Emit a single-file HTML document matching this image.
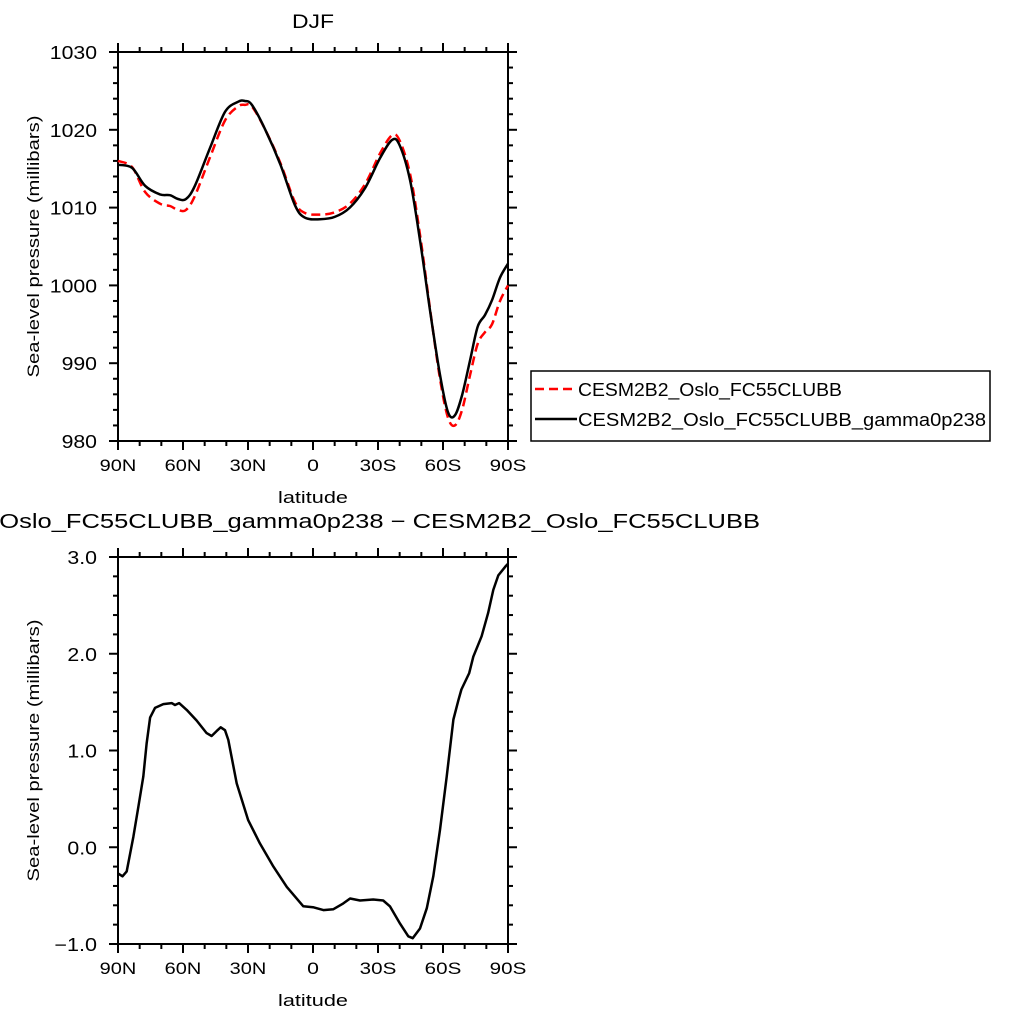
<!DOCTYPE html>
<html><head><meta charset="utf-8"><style>
html,body{margin:0;padding:0;background:#fff;}
svg{display:block;font-family:"Liberation Sans","DejaVu Sans",sans-serif;}
</style></head><body>
<svg id="chart" width="1015" height="1017" viewBox="0 0 1015 1017" xmlns="http://www.w3.org/2000/svg"></svg>
<script>
// ---- data ----
const topLat = [90,83.5,77.5,70.6,66,62.3,58.6,54.5,47.5,40.6,34.6,31.4,28.2,22,15,8.3,3.7,-3.2,-10,-17,-24,-31,-36.5,-40,-44.8,-49.4,-54,-58.6,-62.3,-65.5,-68.8,-72.5,-76,-79.4,-82.6,-86.3,-90];
const gammaValues = [1015.5,1015.1,1012.8,1011.7,1011.6,1011.1,1011.1,1012.8,1017.7,1022.3,1023.6,1023.7,1023.2,1020,1015.5,1010.3,1008.7,1008.5,1008.8,1010,1012.5,1016.4,1018.7,1018,1013.5,1005.8,996.8,988.5,983.7,983.3,985.9,990.4,994.7,996.2,998.1,1001,1002.8];
const baseValues = [1016,1015.2,1012,1010.5,1010.2,1009.7,1009.7,1011.5,1016.5,1021.2,1023,1023.2,1023,1020,1015.7,1010.7,1009.3,1009.1,1009.4,1010.5,1013,1017,1019.3,1018.6,1014.3,1006.5,997,988,983,982,984,988.5,992.5,994,995,998,1000];
const diffLat = [90,87.9,86,82.9,80.6,78.3,76.8,75.2,72.9,69.1,65.2,63.7,61.8,58.3,53.7,49.1,46.8,44.5,42.6,40.6,39.1,35.2,29.9,24.5,18.3,12.1,8.3,4.5,0,-4.8,-9.4,-14,-17.1,-21.7,-27.8,-32.4,-35.5,-40.2,-44,-46,-49.4,-52.5,-55.5,-58.6,-61.7,-64.8,-67.1,-68.5,-72.1,-74,-77.8,-80.8,-83.2,-85.5,-89.1,-90];
const diffValues = [-0.27,-0.30,-0.25,0.11,0.42,0.73,1.07,1.34,1.44,1.48,1.49,1.47,1.49,1.42,1.31,1.18,1.15,1.2,1.24,1.21,1.11,0.66,0.28,0.04,-0.2,-0.41,-0.51,-0.61,-0.62,-0.65,-0.64,-0.58,-0.53,-0.55,-0.54,-0.55,-0.61,-0.79,-0.92,-0.94,-0.84,-0.63,-0.30,0.18,0.73,1.32,1.52,1.63,1.80,1.97,2.18,2.42,2.66,2.81,2.91,2.93];
const xTickLat = [90,60,30,0,-30,-60,-90];
const xTickLabels = ["90N","60N","30N","0","30S","60S","90S"];
const topYTicks = [980,990,1000,1010,1020,1030];
const botYTicks = [-1,0,1,2,3];
const botYLabels = ["\u22121.0","0.0","1.0","2.0","3.0"];

const NS="http://www.w3.org/2000/svg";
const svg=document.getElementById('chart');
function mk(tag,attrs,parent){const e=document.createElementNS(NS,tag);for(const k in attrs)e.setAttribute(k,attrs[k]);(parent||svg).appendChild(e);return e;}
function tw(s){let w=0;for(const c of s){w+= c==='.'?6:(c==='\u2212'?13:11.8);}return w;}
const X0=118,X1=508;
function xs(lat){return X0+(90-lat)*(X1-X0)/180;}

function panel(name,Y0,Y1,ymin,ymax,yTicks,yLabels,minorStep){
  const g=mk('g',{});
  
  
  const ys=v=>Y1-(v-ymin)*(Y1-Y0)/(ymax-ymin);
  const frame=mk('rect',{x:X0,y:Y0,width:X1-X0,height:Y1-Y0,fill:'none',stroke:'#000','stroke-width':2},g);
  
  
  for(let lat=90;lat>=-90;lat-=10){
    const x=xs(lat);const maj=lat%30===0;const L=maj?9:5;
    mk('line',{x1:x,x2:x,y1:Y1,y2:Y1+L,stroke:'#000','stroke-width':2},g);
    mk('line',{x1:x,x2:x,y1:Y0,y2:Y0-L,stroke:'#000','stroke-width':2},g);
  }
  xTickLabels.forEach((t,i)=>{
    const tx=mk('text',{x:xs(xTickLat[i]),y:Y1+30,'font-size':17,'text-anchor':'middle',textLength:tw(t.replace(/[NS]/,'00')) - (t==='0'?0:11.8*2-13),lengthAdjust:'spacingAndGlyphs'},g);
    tx.textContent=t;
    
    
  });
  const n=Math.round((ymax-ymin)/minorStep);
  const per=Math.round((yTicks[1]-yTicks[0])/minorStep);
  for(let i=0;i<=n;i++){
    const v=ymin+i*minorStep;const y=ys(v);
    const maj=i%per===0;const L=maj?9:5;
    mk('line',{x1:X0,x2:X0-L,y1:y,y2:y,stroke:'#000','stroke-width':2},g);
    mk('line',{x1:X1,x2:X1+L,y1:y,y2:y,stroke:'#000','stroke-width':2},g);
  }
  yTicks.forEach((v,i)=>{
    const w=tw(yLabels[i]);
    const ty=mk('text',{x:97-w,y:ys(v)+7,'font-size':18,textLength:w,lengthAdjust:'spacingAndGlyphs'},g);
    ty.textContent=yLabels[i];
    
    
  });
  const xt=mk('text',{x:278,y:Y1+62,'font-size':17,textLength:70,lengthAdjust:'spacingAndGlyphs'},g);
  xt.textContent='latitude';
  
  
  const cy=(Y0+Y1)/2;
  const yt=mk('text',{x:cy-131,y:0,'font-size':17,textLength:262,lengthAdjust:'spacingAndGlyphs',transform:`translate(39 ${2*cy}) rotate(-90)`},g);
  yt.textContent='Sea-level pressure (millibars)';
  
  
  return ys;
}
function smoothPath(pts){
  let d='M'+pts[0][0].toFixed(1)+','+pts[0][1].toFixed(1);
  for(let i=0;i<pts.length-1;i++){
    const p0=pts[Math.max(0,i-1)],p1=pts[i],p2=pts[i+1],p3=pts[Math.min(pts.length-1,i+2)];
    const c1=[p1[0]+(p2[0]-p0[0])/6,p1[1]+(p2[1]-p0[1])/6];
    const c2=[p2[0]-(p3[0]-p1[0])/6,p2[1]-(p3[1]-p1[1])/6];
    d+=` C${c1[0].toFixed(1)},${c1[1].toFixed(1)} ${c2[0].toFixed(1)},${c2[1].toFixed(1)} ${p2[0].toFixed(1)},${p2[1].toFixed(1)}`;
  }
  return d;
}
function line(lats,vals,ys,attrs,name,smooth){
  const pts=lats.map((l,i)=>[xs(l),ys(vals[i])]);
  const d=smooth?smoothPath(pts):pts.map((p,i)=>(i?'L':'M')+p[0].toFixed(1)+','+p[1].toFixed(1)).join(' ');
  const p=mk('path',Object.assign({d:d,fill:'none','stroke-linejoin':'round'},attrs));
  
  
}

const ysT=panel('top-panel',52,441,980,1030,topYTicks,topYTicks.map(String),2);
line(topLat,baseValues,ysT,{stroke:'#f00','stroke-width':2.5,'stroke-dasharray':'9,5'},'series-base-red-dashed',true);
line(topLat,gammaValues,ysT,{stroke:'#000','stroke-width':2.5},'series-gamma-black',true);
const t1=mk('text',{x:292,y:28,'font-size':19,textLength:42,lengthAdjust:'spacingAndGlyphs'});
t1.textContent='DJF';



const lg=mk('g',{});


mk('rect',{x:531,y:371,width:459,height:70,fill:'#fff',stroke:'#000','stroke-width':1.5},lg);
mk('line',{x1:535,x2:577,y1:389,y2:389,stroke:'#f00','stroke-width':2.5,'stroke-dasharray':'9,5'},lg);
mk('line',{x1:535,x2:577,y1:419,y2:419,stroke:'#000','stroke-width':2.5},lg);
const l1=mk('text',{x:578,y:396,'font-size':18,textLength:264,lengthAdjust:'spacingAndGlyphs'},lg);
l1.textContent='CESM2B2_Oslo_FC55CLUBB';


const l2=mk('text',{x:578,y:426,'font-size':18,textLength:408,lengthAdjust:'spacingAndGlyphs'},lg);
l2.textContent='CESM2B2_Oslo_FC55CLUBB_gamma0p238';



const ysB=panel('bottom-panel',557,944,-1,3,botYTicks,botYLabels,0.2);
line(diffLat,diffValues,ysB,{stroke:'#000','stroke-width':2.5},'series-difference',false);
const t2=mk('text',{x:-134,y:528,'font-size':20,textLength:894,lengthAdjust:'spacingAndGlyphs'});
t2.textContent='CESM2B2_Oslo_FC55CLUBB_gamma0p238 \u2212 CESM2B2_Oslo_FC55CLUBB';


</script>
</body></html>
